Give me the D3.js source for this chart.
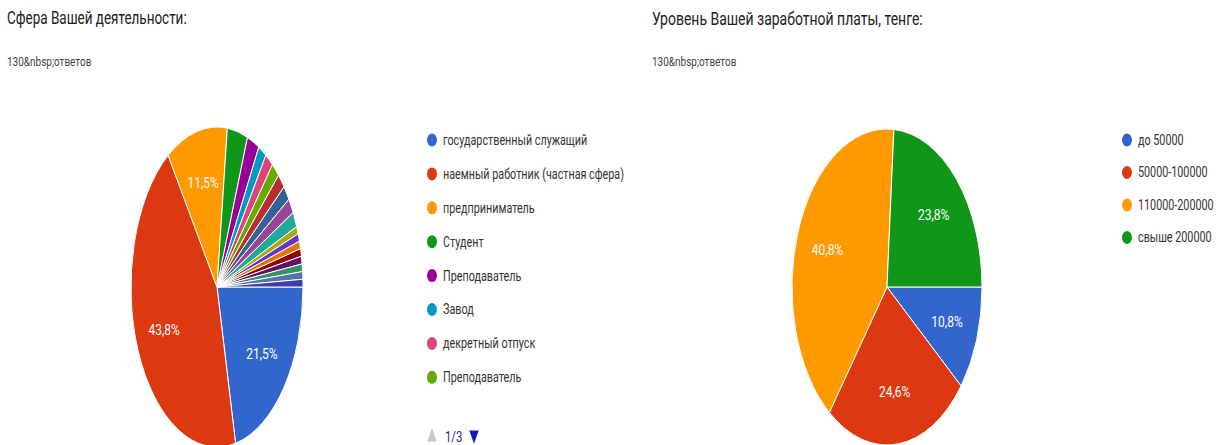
<!DOCTYPE html>
<html>
<head>
<meta charset="utf-8">
<script src="https://cdn.jsdelivr.net/npm/d3@7"></script>
<style>
  html, body { margin: 0; padding: 0; background: #fff; }
  svg { display: block; font-family: Roboto, "Noto Sans", sans-serif; }
</style>
</head>
<body>
<svg id="chart" width="1230" height="445"></svg>
<script>
// left chart: sphere of work (130 answers), counts per category
const sphereLabels = [
  "государственный служащий",
  "наемный работник (частная сфера)",
  "предприниматель",
  "Студент",
  "Преподаватель",
  "Завод",
  "декретный отпуск",
  "Преподаватель"
];
const sphereCounts = [28, 57, 15, 5, 3, 2, 2, 2, 2, 2, 2, 2, 1, 1, 1, 1, 1, 1, 1, 1];

// right chart: salary level
const salaryLabels = ["до 50000", "50000-100000", "110000-200000", "свыше 200000"];
const salaryCounts = [14, 32, 53, 31];

const totalAnswers = 130;
const pageLabel = "1/3";

// google charts palette
const palette = [
  "#3366cc", "#dc3912", "#ff9900", "#109618", "#990099", "#0099c6", "#dd4477",
  "#66aa00", "#b82e2e", "#316395", "#994499", "#22aa99", "#aaaa11", "#6633cc",
  "#e67300", "#8b0707", "#651067", "#329262", "#5574a6", "#3b3eac"
];

const svg = d3.select("#chart");
const SQ = 0.82; // horizontal squeeze of the text

function squeezedText(g, x, y, str, opts = {}) {
  const t = g.append("text")
    .attr("transform", `translate(${x},${y}) scale(${opts.sq ?? SQ},1)`)
    .attr("font-size", opts.size ?? 13)
    .attr("fill", opts.fill ?? "#212121")
    .attr("text-anchor", opts.anchor ?? "start")
    .text(str);
  if (opts.dy) t.attr("dy", opts.dy);
  return t;
}

const fmtPct = v => d3.format(".1f")(v * 100).replace(".", ",") + "%";

function drawPie({ counts, cx, cy, rx, ry }) {
  const total = d3.sum(counts);
  const color = d3.scaleOrdinal().domain(d3.range(counts.length)).range(palette);
  const pie = d3.pie().sort(null).value(d => d)
    .startAngle(Math.PI / 2).endAngle(Math.PI / 2 + 2 * Math.PI);
  const arc = d3.arc().innerRadius(0).outerRadius(ry);
  const arcs = pie(counts);

  const g = svg.append("g")
    .attr("transform", `translate(${cx},${cy}) scale(${rx / ry},1)`);
  g.selectAll("path")
    .data(arcs)
    .join("path")
    .attr("d", arc)
    .attr("fill", (d, i) => color(i))
    .attr("stroke", "#fff")
    .attr("stroke-width", 1)
    .attr("vector-effect", "non-scaling-stroke");

  // percentage labels on the bigger slices
  const labelArc = d3.arc().innerRadius(ry * 0.67).outerRadius(ry * 0.67);
  const lg = svg.append("g");
  arcs.filter(d => d.value / total >= 0.05).forEach(d => {
    const [x, y] = labelArc.centroid(d);
    squeezedText(lg, cx + x * rx / ry, cy + y, fmtPct(d.value / totalAnswers), {
      size: 15, fill: "#fff", anchor: "middle", dy: "0.35em", sq: 0.8
    });
  });
  return color;
}

function drawLegend(labels, color, x, y0, step) {
  const g = svg.append("g");
  labels.forEach((lab, i) => {
    const y = y0 + i * step;
    g.append("ellipse")
      .attr("cx", x).attr("cy", y).attr("rx", 5).attr("ry", 6.5)
      .attr("fill", color(i));
    squeezedText(g, x + 11, y, lab, { size: 14, fill: "#333", dy: "0.35em", sq: 0.77 });
  });
}

// titles
const head = svg.append("g");
squeezedText(head, 7, 24, "Сфера Вашей деятельности:", { size: 17.5, sq: 0.77 });
squeezedText(head, 7, 66, totalAnswers + "&nbsp;ответов", { size: 12.5, fill: "#444", sq: 0.8 });
squeezedText(head, 652, 25, "Уровень Вашей заработной платы, тенге:", { size: 17.5, sq: 0.8 });
squeezedText(head, 652, 66, totalAnswers + "&nbsp;ответов", { size: 12.5, fill: "#444", sq: 0.8 });

// left pie + legend
const c1 = drawPie({ counts: sphereCounts, cx: 217, cy: 287, rx: 86, ry: 160 });
drawLegend(sphereLabels, c1, 432, 140, 33.9);

// pager under the left legend
const pager = svg.append("g");
pager.append("path")
  .attr("d", d3.symbol().type(d3.symbolTriangle).size(60)())
  .attr("transform", "translate(432,437) scale(0.8,1.3)")
  .attr("fill", "#c8c8c8");
squeezedText(pager, 445, 437, pageLabel, { size: 14, fill: "#1a237e", dy: "0.35em", sq: 0.8 });
pager.append("path")
  .attr("d", d3.symbol().type(d3.symbolTriangle).size(60)())
  .attr("transform", "translate(474,435) rotate(180) scale(0.8,1.3)")
  .attr("fill", "#0d1fb5");

// right pie + legend
const c2 = drawPie({ counts: salaryCounts, cx: 887, cy: 287, rx: 95, ry: 158 });
drawLegend(salaryLabels, c2, 1127, 140, 32.5);
</script>
</body>
</html>
